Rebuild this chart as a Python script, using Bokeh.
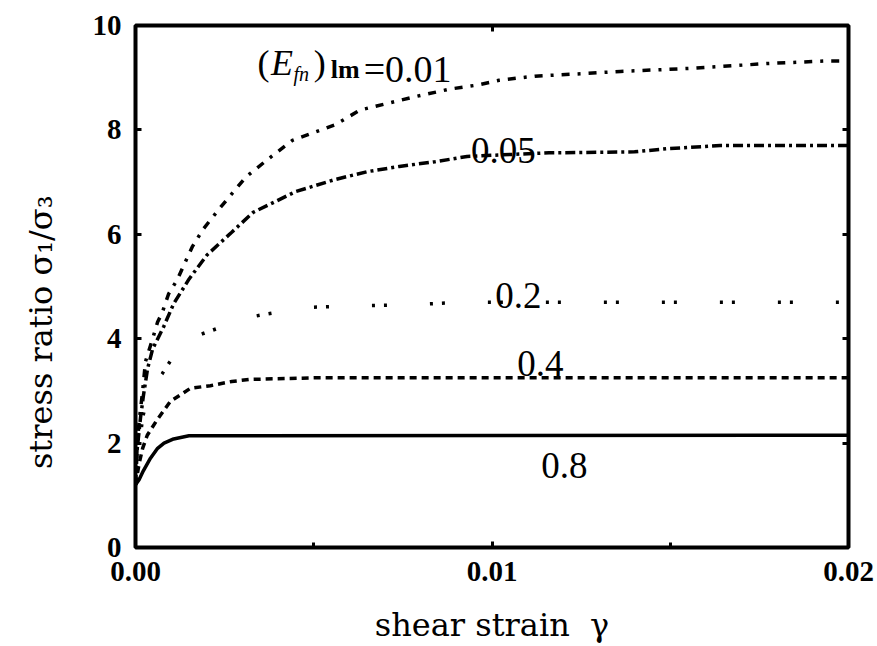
from bokeh.plotting import figure
from bokeh.models import (FixedTicker, LinearAxis, Label, Range1d, NumeralTickFormatter)
from bokeh.embed import file_html
from bokeh.resources import INLINE

# ---------------- data ----------------
x_08 = [0, 0.0001, 0.00022, 0.00042, 0.00062, 0.0008, 0.00107, 0.0015, 0.02]
y_08 = [1.2, 1.3, 1.47, 1.71, 1.9, 2.0, 2.08, 2.14, 2.15]

x_04 = [0, 0.0001, 0.0002, 0.00033, 0.0006, 0.00098, 0.00154, 0.0021, 0.0027, 0.0032, 0.005, 0.02]
y_04 = [1.2, 1.6, 1.9, 2.15, 2.44, 2.8, 3.05, 3.1, 3.18, 3.22, 3.25, 3.25]

x_02 = [0, 0.0001, 0.0002, 0.0004, 0.00075, 0.0011, 0.00154, 0.0019, 0.0026, 0.0031,
        0.0035, 0.0048, 0.0063, 0.0077, 0.0092, 0.02]
y_02 = [1.2, 1.9, 2.5, 3.0, 3.33, 3.7, 4.0, 4.1, 4.27, 4.4, 4.45, 4.6, 4.63, 4.65, 4.7, 4.7]

x_005 = [0, 0.00005, 0.00014, 0.00022, 0.00034, 0.00048, 0.00079, 0.00107, 0.0015, 0.002,
         0.0027, 0.0033, 0.0045, 0.0056, 0.0065, 0.0074, 0.0084, 0.0093, 0.0102, 0.0116,
         0.014, 0.0149, 0.0164, 0.02]
y_005 = [1.2, 1.9, 2.48, 2.9, 3.43, 3.8, 4.23, 4.67, 5.14, 5.6, 6.04, 6.42, 6.82, 7.05, 7.2,
         7.3, 7.39, 7.49, 7.52, 7.56, 7.58, 7.64, 7.7, 7.7]

x_001 = [0, 0.00005, 0.0001, 0.0002, 0.00028, 0.00048, 0.00062, 0.00075, 0.00093, 0.00118,
         0.00135, 0.0016, 0.0019, 0.0024, 0.0031, 0.0037, 0.0044, 0.0048, 0.0056, 0.0063,
         0.0072, 0.0078, 0.0088, 0.0096, 0.0102, 0.0112, 0.0126, 0.0136, 0.0156, 0.0177,
         0.0193, 0.02]
y_001 = [1.2, 2.0, 2.4, 3.0, 3.56, 4.0, 4.32, 4.5, 4.86, 5.14, 5.4, 5.77, 6.1, 6.53, 7.1,
         7.43, 7.8, 7.9, 8.1, 8.38, 8.53, 8.63, 8.78, 8.86, 8.95, 9.03, 9.08, 9.12, 9.18,
         9.27, 9.32, 9.32]

x_ticks = [0.0, 0.01, 0.02]
x_minor = [0.005, 0.015]
y_ticks = [0, 2, 4, 6, 8, 10]

curve_labels = ["0.8", "0.4", "0.2", "0.05"]
label_x = [0.01203, 0.01136, 0.01074, 0.01032]
label_y = [1.58, 3.53, 4.82, 7.6]

# ---------------- figure ----------------
p = figure(width=877, height=646, output_backend="svg", toolbar_location=None,
           x_range=Range1d(0, 0.02), y_range=Range1d(0, 10),
           min_border_left=135, min_border_right=29, min_border_top=25, min_border_bottom=96,
           x_axis_location=None, y_axis_location=None)
p.grid.visible = False
p.outline_line_color = "black"
p.outline_line_width = 4
p.background_fill_color = "white"
p.border_fill_color = "white"

TICK_FONT = "Liberation Serif"
TITLE_FONT = "DejaVu Serif"
NB = "\u00a0"

bottom = LinearAxis(ticker=FixedTicker(ticks=x_ticks, minor_ticks=x_minor),
                    formatter=NumeralTickFormatter(format="0.00"))
bottom.axis_label = "shear strain" + NB * 2 + "γ"
left = LinearAxis(ticker=FixedTicker(ticks=y_ticks))
left.axis_label = "stress ratio σ₁/σ₃" + NB * 9
top = LinearAxis(ticker=FixedTicker(ticks=[0.01]))
right = LinearAxis(ticker=FixedTicker(ticks=y_ticks))

for ax in (bottom, left, top, right):
    ax.axis_line_color = None
    ax.major_tick_in = 6
    ax.major_tick_out = 0
    ax.minor_tick_in = 5
    ax.minor_tick_out = 0
    ax.major_tick_line_width = 3
    ax.minor_tick_line_width = 3
    ax.major_tick_line_color = "black"
    ax.minor_tick_line_color = "black"
    ax.major_label_text_font = TICK_FONT
    ax.major_label_text_font_style = "bold"
    ax.major_label_text_font_size = "29px"
    ax.major_label_text_color = "black"
    ax.axis_label_text_font = TITLE_FONT
    ax.axis_label_text_font_style = "normal"
    ax.axis_label_text_font_size = "32px"
    ax.axis_label_text_color = "black"

left.minor_tick_line_color = None
right.minor_tick_line_color = None
top.minor_tick_line_color = None
for ax in (top, right):
    ax.major_label_text_color = None
    ax.major_label_text_font_size = "2px"
    ax.major_label_standoff = 0
bottom.major_label_standoff = 14
left.major_label_standoff = 14
bottom.axis_label_standoff = 22
left.axis_label_standoff = 30

p.add_layout(bottom, "below")
p.add_layout(left, "left")
p.add_layout(top, "above")
p.add_layout(right, "right")

# ---------------- curves ----------------
p.line(x_08, y_08, line_color="black", line_width=3.5)
p.line(x_04, y_04, line_color="black", line_width=3.5, line_dash="7 5")
p.line(x_02, y_02, line_color="black", line_width=3.5, line_dash="3 9 3 43")
p.line(x_005, y_005, line_color="black", line_width=3.5, line_dash="10 4 3 4")
p.line(x_001, y_001, line_color="black", line_width=3.5, line_dash="8 8 3 8")

# ---------------- in-plot labels ----------------
for t, lx, ly in zip(curve_labels, label_x, label_y):
    p.add_layout(Label(x=lx, y=ly, text=t, text_align="center", text_baseline="alphabetic",
                       text_font=TICK_FONT, text_font_size="37px", text_color="black"))

# (E_fn)_lm = 0.01
p.add_layout(Label(x=0.00342, y=9.28, text="(", text_align="left", text_baseline="alphabetic",
                   text_font=TICK_FONT, text_font_size="36px", text_color="black"))
p.add_layout(Label(x=0.00380, y=9.28, text="E", text_align="left", text_baseline="alphabetic",
                   text_font=TICK_FONT, text_font_style="italic", text_font_size="36px",
                   text_color="black"))
p.add_layout(Label(x=0.00443, y=9.08, text="fn", text_align="left", text_baseline="alphabetic",
                   text_font=TICK_FONT, text_font_style="italic", text_font_size="20px",
                   text_color="black"))
p.add_layout(Label(x=0.00500, y=9.28, text=")", text_align="left", text_baseline="alphabetic",
                   text_font=TICK_FONT, text_font_size="36px", text_color="black"))
p.add_layout(Label(x=0.00548, y=9.15, text="lm", text_align="left", text_baseline="alphabetic",
                   text_font=TICK_FONT, text_font_style="bold", text_font_size="26px",
                   text_color="black"))
p.add_layout(Label(x=0.00640, y=9.16, text="=0.01", text_align="left", text_baseline="alphabetic",
                   text_font=TICK_FONT, text_font_size="38px", text_color="black"))

open("out.html", "w").write(file_html(p, INLINE))
